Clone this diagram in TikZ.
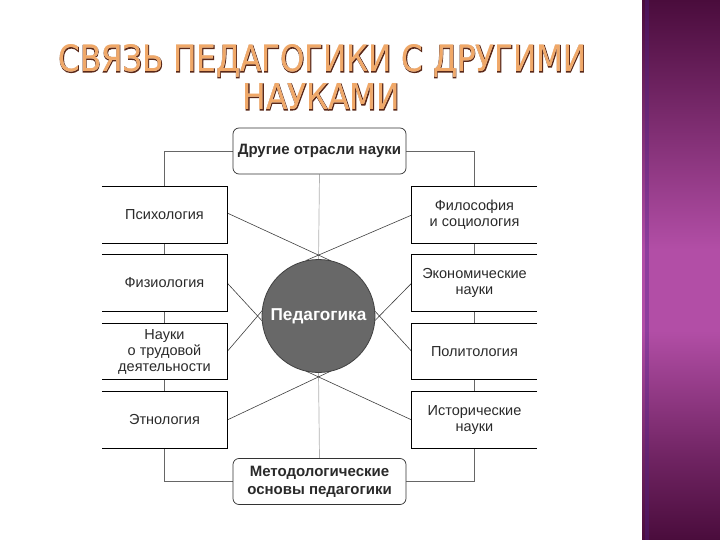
\documentclass[tikz,border=0pt]{standalone}
\usepackage{fontspec}
\setmainfont{Liberation Sans}
\newfontfamily\titlefont{DejaVu Sans}
\newfontfamily\titleboldfont[FakeBold=3.5]{DejaVu Sans}
\usetikzlibrary{calc,fadings}
\pgfdeclarelayer{back}
\pgfdeclarelayer{bg}
\pgfsetlayers{back,bg,main}
\definecolor{purpD}{HTML}{4A0C3C}
\definecolor{purpM}{HTML}{B24EA6}
\definecolor{titleFill}{HTML}{FDF0E2}
\definecolor{titleOrange}{HTML}{F0A868}
\definecolor{titleLine}{HTML}{5A2818}
\definecolor{circFill}{HTML}{686868}
\definecolor{inkText}{HTML}{2A2A2A}
\pgfdeclareverticalshading{purpbar}{100bp}{color(0bp)=(purpD); color(25bp)=(purpD); color(32.4bp)=(purpD!65!purpM); color(44.4bp)=(purpM); color(51.9bp)=(purpM); color(66.7bp)=(purpD!65!purpM); color(75bp)=(purpD); color(100bp)=(purpD)}
\tikzfading[name=titlefade, top color=transparent!100, bottom color=transparent!0]
\tikzset{
  sidebox/.style={minimum width=125pt, minimum height=56pt, inner sep=2pt, align=center,
    font=\fontsize{14.5}{16}\selectfont, text=inkText},
  keybox/.style={draw=black!80, line width=0.7pt, rounded corners=6pt, minimum width=173pt,
    minimum height=46pt, align=center, fill=white, text=inkText,
    font=\bfseries\fontsize{15}{18}\selectfont},
  boxline/.style={draw=black, line width=0.8pt},
  link/.style={draw=black!75, line width=0.6pt, shorten >=-14pt},
  tie/.style={draw=black!60, line width=0.7pt},
  axisline/.style={draw=black!30, line width=0.7pt},
  titletext/.style={inner sep=0pt, anchor=base}
}
\newcommand{\lineone}{СВЯЗЬ ПЕДАГОГИКИ С ДРУГИМИ}
\newcommand{\linetwo}{НАУКАМИ}
\begin{document}
\begin{tikzpicture}[x=1pt,y=-1pt]
\useasboundingbox (0,0) rectangle (720,540);
\begin{pgfonlayer}{back}
\fill[white] (0,0) rectangle (720,540);
% purple side bar
\shade[shading=purpbar] (642,0) rectangle (720,540);
\fill[purpM!60!blue!70!black, opacity=0.35] (645,0) rectangle (649,540);
\end{pgfonlayer}

% title: dark emboldened copy (outline), light fill, orange fading towards the bottom
\node[titletext, text=titleLine] (t1o) at (322.5,72) {\resizebox{528pt}{27pt}{\titleboldfont\lineone}};
\node[titletext, text=titleFill] (t1) at (322.5,72) {\resizebox{528pt}{27pt}{\titlefont\lineone}};
\begin{scope}[scope fading=titlefade, fading transform={shift={(322.5,62)}, yscale=0.6}]
\node[titletext, text=titleOrange] (t1g) at (322.5,72) {\resizebox{528pt}{27pt}{\titlefont\lineone}};
\end{scope}
\node[titletext, text=titleLine] (t2o) at (321.5,110) {\resizebox{157pt}{26pt}{\titleboldfont\linetwo}};
\node[titletext, text=titleFill] (t2) at (321.5,110) {\resizebox{157pt}{26pt}{\titlefont\linetwo}};
\begin{scope}[scope fading=titlefade, fading transform={shift={(321.5,100)}, yscale=0.6}]
\node[titletext, text=titleOrange] (t2g) at (321.5,110) {\resizebox{157pt}{26pt}{\titlefont\linetwo}};
\end{scope}

% main nodes
\node[keybox] (top) at (319.5,151) {Другие отрасли науки};
\node[keybox] (bot) at (319.5,481.5) {Методологические\\основы педагогики};
\node[circle, fill=circFill, draw=black!75, line width=0.8pt, minimum size=113pt, inner sep=0pt,
      text=white, font=\bfseries\fontsize{17.2}{20}\selectfont] (ped) at (318.5,316) {Педагогика};

% left boxes
\node[sidebox] (psy)  at (164.5,215)   {Психология};
\node[sidebox] (phys) at (164.5,283)   {Физиология};
\node[sidebox] (lab)  at (164.5,351.5) {Науки\\о трудовой\\деятельности};
\node[sidebox] (eth)  at (164.5,420)   {Этнология};
% right boxes
\node[sidebox] (phil) at (474.5,215)   {Философия\\и социология};
\node[sidebox] (econ) at (474.5,283)   {Экономические\\науки};
\node[sidebox] (pol)  at (474.5,351.5) {Политология};
\node[sidebox] (hist) at (474.5,420)   {Исторические\\науки};

\foreach \n in {psy,phys,lab,eth}
  \draw[boxline] (\n.north west) -- (\n.north east) -- (\n.south east) -- (\n.south west);
\foreach \n in {phil,econ,pol,hist}
  \draw[boxline] (\n.north east) -- (\n.north west) -- (\n.south west) -- (\n.south east);

\begin{pgfonlayer}{bg}
  % frame connectors
  \draw[tie] (top.west) -| (psy.north);
  \draw[tie] (psy.south) -- (phys.north);
  \draw[tie] (phys.south) -- (lab.north);
  \draw[tie] (lab.south) -- (eth.north);
  \draw[tie] (eth.south) |- (bot.west);
  \draw[tie] (top.east) -| (phil.north);
  \draw[tie] (phil.south) -- (econ.north);
  \draw[tie] (econ.south) -- (pol.north);
  \draw[tie] (pol.south) -- (hist.north);
  \draw[tie] (hist.south) |- (bot.east);
  % central axis
  \draw[axisline] (top.south) -- (ped.north);
  \draw[axisline] (ped.south) -- (bot.north);
  % diagonal links
  \draw[link] ([yshift=2pt]psy.east) -- ($(ped.north)+(0,-4)$);
  \draw[link] (phil.west) -- ($(ped.north)+(0,-4)$);
  \draw[link] (phys.east) -- ($(ped.west)+(-4,0)$);
  \draw[link] (lab.east) -- ($(ped.west)+(-4,0)$);
  \draw[link] (econ.west) -- ($(ped.east)+(4,0)$);
  \draw[link] (pol.west) -- ($(ped.east)+(4,0)$);
  \draw[link] (eth.east) -- ($(ped.south)+(0,4)$);
  \draw[link] (hist.west) -- ($(ped.south)+(0,4)$);
\end{pgfonlayer}
\end{tikzpicture}
\end{document}
